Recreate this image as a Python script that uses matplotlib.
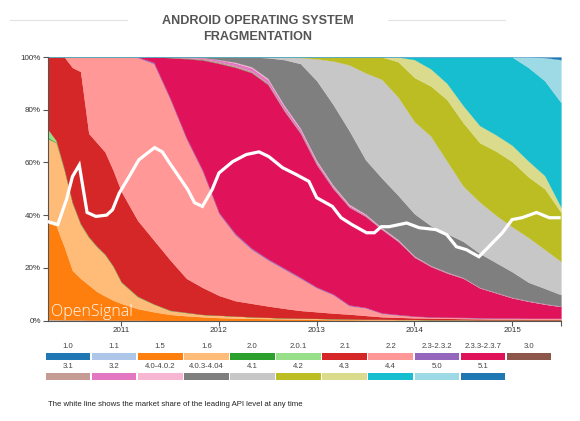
import numpy as np
import matplotlib
matplotlib.use('Agg')
import matplotlib.pyplot as plt
from matplotlib.patches import Rectangle
from matplotlib.lines import Line2D

plt.rcParams['font.family'] = ['Liberation Sans', 'DejaVu Sans']

# ---------------- data ----------------
years = [2010.25, 2010.333, 2010.417, 2010.5, 2010.583, 2010.667, 2010.75, 2010.833, 2010.917,
         2011.0, 2011.167, 2011.333, 2011.5, 2011.667, 2011.833, 2012.0, 2012.167, 2012.333,
         2012.5, 2012.667, 2012.833, 2013.0, 2013.167, 2013.333, 2013.5, 2013.667, 2013.833,
         2014.0, 2014.167, 2014.333, 2014.5, 2014.667, 2014.833, 2015.0, 2015.167, 2015.333, 2015.5]

versions = ['1.0', '1.1', '1.5', '1.6', '2.0', '2.0.1', '2.1', '2.2', '2.3-2.3.2', '2.3.3-2.3.7',
            '3.0', '3.1', '3.2', '4.0-4.0.2', '4.0.3-4.04', '4.1', '4.2', '4.3', '4.4', '5.0', '5.1']

colors = ['#1f77b4', '#aec7e8', '#ff7f0e', '#ffbb78', '#2ca02c', '#98df8a', '#d62728', '#ff9896',
          '#9467bd', '#e0125a', '#8c564b', '#c49c94', '#e377c2', '#f7b6d2', '#7f7f7f', '#c7c7c7',
          '#bcbd22', '#dbdb8d', '#17becf', '#9edae5', '#1f77b4']

v1_0 = [0, 0, 0, 0, 0, 0, 0, 0, 0, 0, 0, 0, 0, 0, 0, 0, 0, 0, 0, 0, 0, 0, 0, 0, 0, 0, 0, 0, 0, 0, 0, 0, 0, 0, 0, 0, 0]
v1_1 = [0.3, 0.3, 0.2, 0.2, 0.2, 0.1, 0.1, 0.1, 0.1, 0.1, 0.1, 0, 0, 0, 0, 0, 0, 0, 0, 0, 0, 0, 0, 0, 0, 0, 0, 0, 0, 0, 0, 0, 0, 0, 0, 0, 0]
v1_5 = [36.7, 35.7, 27.8, 18.8, 15.8, 13.4, 10.9, 9.2, 7.6, 6.4, 4.4, 3.3, 2.3, 1.8, 1.4, 1.1, 0.9, 0.8, 0.7, 0.6,
        0.5, 0.4, 0.3, 0.3, 0.2, 0.2, 0.2, 0.1, 0.1, 0.1, 0.1, 0, 0, 0, 0, 0, 0]
v1_6 = [32, 31.5, 29, 25.5, 20.5, 18, 17, 15.7, 12.8, 8, 4.5, 2.9, 1.5, 1.2, 0.9, 0.9, 0.8, 0.6, 0.5, 0.4,
        0.4, 0.4, 0.4, 0.3, 0.3, 0.3, 0.2, 0.3, 0.2, 0.2, 0.2, 0.2, 0.2, 0.2, 0.2, 0.2, 0.2]
v2_0 = [0.5, 0.2, 0.1, 0.1, 0.1, 0.1, 0.1, 0.1, 0.1, 0.1, 0.1, 0, 0, 0, 0, 0, 0, 0, 0, 0, 0, 0, 0, 0, 0, 0, 0, 0, 0, 0, 0, 0, 0, 0, 0, 0, 0]
v2_0_1 = [3, 0.6, 0.3, 0.2, 0.2, 0.2, 0.1, 0.1, 0.1, 0.1, 0.1, 0.1, 0.1, 0.1, 0, 0, 0, 0, 0, 0, 0, 0, 0, 0, 0, 0, 0, 0, 0, 0, 0, 0, 0, 0, 0, 0, 0]
v2_1 = [27.5, 31.7, 42.6, 51.2, 57.7, 39.2, 39.3, 38.8, 36.3, 34.3, 28.8, 24.2, 19.1, 12.9, 10.2, 7.5, 5.8, 5.1,
        4.3, 3.6, 2.9, 2.5, 2.1, 1.8, 1.4, 0.9, 0.8, 0.6, 0.6, 0.5, 0.4, 0.4, 0.3, 0.3, 0.2, 0.2, 0.2]
v2_2 = [0, 0, 0, 4, 5.5, 29, 32.5, 36, 43, 51, 61.8, 67, 61, 53, 44, 31, 25, 20.5, 17.5, 14.9, 12.2, 9.1, 7.0,
        3.2, 2.9, 1.3, 0.9, 0.6, 0.4, 0.4, 0.4, 0.4, 0.4, 0.4, 0.4, 0.4, 0.4]
v2_3_0 = [0, 0, 0, 0, 0, 0, 0, 0, 0, 0, 0.2, 0.5, 0.5, 0.5, 0.5, 0.5, 0.5, 0.5, 0.4, 0.4, 0.4, 0.3, 0.3, 0.3,
          0.2, 0.2, 0.2, 0.1, 0.1, 0.1, 0.1, 0.1, 0.1, 0.1, 0.1, 0.1, 0.1]
v2_3_3 = [0, 0, 0, 0, 0, 0, 0, 0, 0, 0, 0, 2.0, 15.3, 30, 41.8, 56.5, 63, 66.5, 66.1, 59.6, 54.6, 46.3, 39.9,
          37.1, 34.5, 31.6, 27.7, 22.3, 19.1, 16.7, 14.8, 11.3, 9.5, 7.6, 6.4, 5.3, 4.4]
v3_0 = [0, 0, 0, 0, 0, 0, 0, 0, 0, 0, 0, 0, 0.1, 0.2, 0.2, 0.2, 0.2, 0.2, 0.2, 0.1, 0.1, 0.1, 0.1, 0, 0, 0, 0,
        0, 0, 0, 0, 0, 0, 0, 0, 0, 0]
v3_1 = [0, 0, 0, 0, 0, 0, 0, 0, 0, 0, 0, 0, 0.2, 0.3, 0.4, 0.5, 0.5, 0.5, 0.5, 0.4, 0.4, 0.3, 0.3, 0.2, 0.2,
        0.1, 0.1, 0.1, 0.1, 0.1, 0.1, 0, 0, 0, 0, 0, 0]
v3_2 = [0, 0, 0, 0, 0, 0, 0, 0, 0, 0, 0, 0, 0, 0.2, 0.4, 0.7, 1.0, 1.2, 1.2, 1.2, 1.0, 0.8, 0.6, 0.5, 0.4, 0.3,
        0.3, 0.2, 0.2, 0.2, 0.1, 0.1, 0.1, 0.1, 0.1, 0.1, 0.1]
v4_0 = [0, 0, 0, 0, 0, 0, 0, 0, 0, 0, 0, 0, 0, 0, 0, 0.1, 0.3, 0.4, 0.5, 0.5, 0.5, 0.5, 0.4, 0.4, 0.3, 0.3,
        0.3, 0.2, 0.1, 0.1, 0.1, 0.1, 0.1, 0.1, 0.1, 0.1, 0.1]
v4_0_3 = [0, 0, 0, 0, 0, 0, 0, 0, 0, 0, 0, 0, 0, 0, 0.2, 1.0, 2.0, 3.7, 7.8, 17.3, 24.5, 30.3, 30.6, 27.9,
          20.6, 18.8, 16.8, 16, 15.1, 14.6, 13.7, 12.9, 11.3, 9.7, 7.0, 5.8, 4.3]
v4_1 = [0, 0, 0, 0, 0, 0, 0, 0, 0, 0, 0, 0, 0, 0, 0, 0, 0, 0, 0.3, 1.0, 2.3, 8.3, 16.5, 25, 33, 37.5, 37.3,
        35, 34, 27.5, 21, 19.5, 18, 17.1, 17, 14.8, 12.6]
v4_2 = [0, 0, 0, 0, 0, 0, 0, 0, 0, 0, 0, 0, 0, 0, 0, 0, 0, 0, 0, 0, 0.2, 0.7, 1.5, 3, 6, 8.5, 13.4, 16.7, 19,
        23.3, 24, 22.5, 24.3, 24.7, 23, 23, 18.6]
v4_3 = [0, 0, 0, 0, 0, 0, 0, 0, 0, 0, 0, 0, 0, 0, 0, 0, 0, 0, 0, 0, 0, 0, 0, 0, 0, 0, 1.8, 6.8, 6.5, 6.2,
        6.5, 6.5, 6.2, 6.2, 6.0, 5.0, 2.0]
v4_4 = [0, 0, 0, 0, 0, 0, 0, 0, 0, 0, 0, 0, 0, 0, 0, 0, 0, 0, 0, 0, 0, 0, 0, 0, 0, 0, 0, 1.0, 4.5, 10, 18.5,
        26, 29.5, 33.5, 35.5, 36, 39.7]
v5_0 = [0, 0, 0, 0, 0, 0, 0, 0, 0, 0, 0, 0, 0, 0, 0, 0, 0, 0, 0, 0, 0, 0, 0, 0, 0, 0, 0, 0, 0, 0, 0, 0, 0, 0,
        4, 8.8, 16.3]
v5_1 = [0, 0, 0, 0, 0, 0, 0, 0, 0, 0, 0, 0, 0, 0, 0, 0, 0, 0, 0, 0, 0, 0, 0, 0, 0, 0, 0, 0, 0, 0, 0, 0, 0, 0,
        0, 0.2, 1.0]

# share of the leading API level (white line)
lead_years = [2010.25, 2010.35, 2010.44, 2010.50, 2010.57, 2010.65, 2010.74, 2010.85, 2010.91, 2010.98,
              2011.08, 2011.18, 2011.34, 2011.42, 2011.49, 2011.59, 2011.68, 2011.75, 2011.83, 2011.93,
              2012.00, 2012.14, 2012.28, 2012.41, 2012.51, 2012.65, 2012.79, 2012.92, 2013.00, 2013.16,
              2013.25, 2013.36, 2013.51, 2013.59, 2013.66, 2013.74, 2013.92, 2014.05, 2014.22, 2014.33,
              2014.43, 2014.53, 2014.66, 2014.80, 2014.90, 2015.00, 2015.10, 2015.25, 2015.38, 2015.48]
lead_share = [37.5, 36.4, 46, 54.6, 59, 41, 39.5, 40, 42, 48.4,
              54.6, 61, 65.6, 64, 60, 54.6, 49.7, 44.7, 43.3, 49.7,
              56, 60.3, 63, 64, 62.2, 58, 55.4, 52.8, 46.6, 43.3,
              39, 36.4, 33.3, 33.3, 35.6, 35.6, 37, 35.2, 34.5, 32.6,
              28, 26.9, 24.2, 29.5, 33.3, 38.3, 39, 41, 39, 39]

year_ticks = [2011, 2012, 2013, 2014, 2015]
pct_ticks = [0, 20, 40, 60, 80, 100]

series = [v1_0, v1_1, v1_5, v1_6, v2_0, v2_0_1, v2_1, v2_2, v2_3_0, v2_3_3, v3_0, v3_1, v3_2,
          v4_0, v4_0_3, v4_1, v4_2, v4_3, v4_4, v5_0, v5_1]

# ---------------- figure ----------------
W, H = 580, 421
fig = plt.figure(figsize=(W / 100, H / 100), dpi=100)
fig.patch.set_facecolor('white')

ax = fig.add_axes([48 / W, 1 - 320.5 / H, (561 - 48) / W, (320.5 - 57) / H])

data = np.array(series, dtype=float)
data = data / data.sum(axis=0) * 100.0
polys = ax.stackplot(years, data, colors=colors, linewidth=0)
for p, c in zip(polys, colors):
    p.set_edgecolor(c)
    p.set_linewidth(0.15)

ax.plot(lead_years, lead_share, color='white', lw=2.3, solid_joinstyle='miter', zorder=5)

ax.text(2010.285, 1.6, 'OpenSignal', color='white', fontsize=11.5, family=['Open Sans', 'DejaVu Sans'],
        fontweight='light', va='baseline', ha='left', zorder=6, alpha=0.95)

ax.set_xlim(2010.25, 2015.5)
ax.set_ylim(0, 100)
ax.set_xticks(year_ticks)
ax.set_xticklabels([str(y) for y in year_ticks])
ax.set_xticks([2015.5], minor=True)
ax.set_yticks(pct_ticks)
ax.set_yticklabels([f'{p}%' for p in pct_ticks])
for s in ['top', 'right']:
    ax.spines[s].set_visible(False)
for s in ['left', 'bottom']:
    ax.spines[s].set_color('#555555')
    ax.spines[s].set_linewidth(0.8)
ax.tick_params(axis='both', which='both', length=3.5, width=0.8, color='#555555', labelsize=5.8,
               labelcolor='#333333', pad=1.5)
ax.set_facecolor('white')

# title (header block centred on x ~ 257.5 px)
cx = 257.5 / W
fig.text(cx, 1 - 20.5 / H, 'ANDROID OPERATING SYSTEM', ha='center', va='center', fontsize=9.1,
         fontweight='bold', color='#555555')
fig.text(cx, 1 - 37 / H, 'FRAGMENTATION', ha='center', va='center', fontsize=9.1,
         fontweight='bold', color='#555555')
fig.add_artist(Line2D([10 / W, 127 / W], [1 - 20 / H, 1 - 20 / H], color='#e2e2e2', lw=0.8))
fig.add_artist(Line2D([388 / W, 505 / W], [1 - 20 / H, 1 - 20 / H], color='#e2e2e2', lw=0.8))

# legend
cell = 46.1
for k, (lab, col) in enumerate(zip(versions, colors)):
    row, c = (0, k) if k < 11 else (1, k - 11)
    x0 = 45.7 + c * cell
    ytop = 353.3 if row == 0 else 373.3
    h = 6.7
    fig.add_artist(Rectangle((x0 / W, 1 - (ytop + h) / H), 44.6 / W, h / H,
                             transform=fig.transFigure, facecolor=col, edgecolor='none'))
    fig.text((x0 + 22.3) / W, 1 - (ytop - 6.3) / H, lab, ha='center', va='center', fontsize=5.6,
             color='#444444')

fig.text(48 / W, 1 - 404 / H, 'The white line shows the market share of the leading API level at any time',
         ha='left', va='center', fontsize=5.6, color='#222222')

fig.savefig('out.png', dpi=100, facecolor='white')
